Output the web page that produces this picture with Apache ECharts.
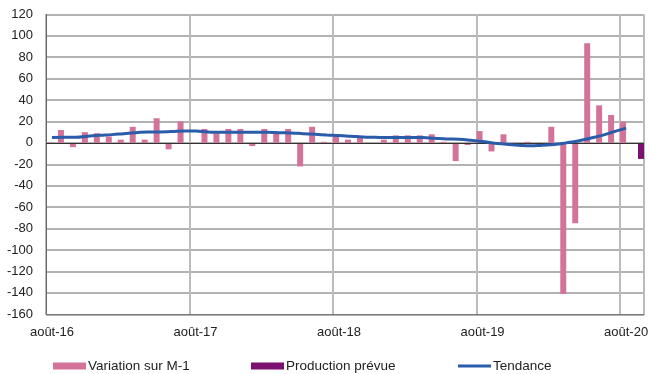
<!DOCTYPE html>
<html><head><meta charset="utf-8">
<script src="https://cdn.jsdelivr.net/npm/echarts@6/dist/echarts.min.js"></script>
<style>html,body{margin:0;padding:0;background:#fff}#c{width:652px;height:374px}</style>
</head><body><div id="c"></div>
<script>
const categories = [
 'août-16','sept-16','oct-16','nov-16','déc-16','janv-17','févr-17','mars-17','avr-17','mai-17','juin-17','juil-17',
 'août-17','sept-17','oct-17','nov-17','déc-17','janv-18','févr-18','mars-18','avr-18','mai-18','juin-18','juil-18',
 'août-18','sept-18','oct-18','nov-18','déc-18','janv-19','févr-19','mars-19','avr-19','mai-19','juin-19','juil-19',
 'août-19','sept-19','oct-19','nov-19','déc-19','janv-20','févr-20','mars-20','avr-20','mai-20','juin-20','juil-20',
 'août-20','sept-20'];
const variation = [
 0.5,12,-4,10,9,6,3,15,3,23,-6,20,
 -0.5,13,9,13,13,-3,13,10,13,-22,15,1,
 8,3,5,-1,3,7,7,7,8,1,-17,-2,
 11,-8,8,-1,1,-1,15,-141,-75,93,35,26,
 20,null];
const production = [
 null,null,null,null,null,null,null,null,null,null,null,null,
 null,null,null,null,null,null,null,null,null,null,null,null,
 null,null,null,null,null,null,null,null,null,null,null,null,
 null,null,null,null,null,null,null,null,null,null,null,null,
 null,-15];
const tendance = [
 4.9,5.2,5.2,6.2,7,7.7,8.6,9.5,10.2,10.2,10.5,11,
 11,10.2,9.8,9.8,9.8,9.8,9.8,9.5,9.2,8.6,8,7.4,
 6.9,6.2,5.5,5.2,4.9,4.9,4.9,4.9,4.3,3.7,3.4,2.5,
 1.2,-0.3,-1.2,-2.2,-2.8,-2.2,-1.5,0,1.8,4.3,7,10.5,
 13.8,null];
const yTicks = {min:-160, max:120, interval:20};

const font = "'Liberation Sans', Arial, sans-serif";
const chart = echarts.init(document.getElementById('c'), null, {renderer:'canvas'});
const legendCommon = {top: 354, itemWidth: 33, itemHeight: 7, itemGap: 0, icon:'rect',
  textStyle:{fontFamily:font, fontSize:13.5, color:'#222', padding:[0,0,0,-3]}};
chart.setOption({
  animation:false,
  textStyle:{fontFamily:font},
  grid:{left:46, right:8, top:14.3, bottom:59.7, containLabel:false},
  legend:[
    Object.assign({data:['Variation sur M-1'], left:48}, legendCommon),
    Object.assign({data:['Production prévue'], left:246}, legendCommon),
    Object.assign({data:[{name:'Tendance', icon:'rect'}], left:453}, legendCommon, {itemHeight:3})
  ],
  xAxis:{type:'category', data:categories, boundaryGap:true,
    axisLine:{onZero:false, lineStyle:{color:'#777', width:1}},
    axisTick:{show:false},
    axisLabel:{interval:11, margin:12, color:'#222', fontSize:13, fontFamily:font},
    splitLine:{show:true, interval:11, lineStyle:{color:'#bbb', width:2}}},
  yAxis:{type:'value', min:yTicks.min, max:yTicks.max, interval:yTicks.interval,
    axisLine:{show:true, lineStyle:{color:'#666', width:1}},
    axisTick:{show:false},
    axisLabel:{margin:13, color:'#222', fontSize:13, fontFamily:font},
    splitLine:{lineStyle:{color:'#999', width:1.5}}},
  series:[
    {name:'Variation sur M-1', type:'bar', data:variation, barGap:'0%', barCategoryGap:'0%',
     itemStyle:{color:'#D4739A'},
     markLine:{silent:true, symbol:'none', label:{show:false},
       lineStyle:{color:'#333', width:1, type:'solid'}, data:[{yAxis:0}]}},
    {name:'Production prévue', type:'bar', data:production, itemStyle:{color:'#7B1070'}},
    {name:'Tendance', type:'line', data:tendance, smooth:true, symbol:'none', showSymbol:false,
     lineStyle:{color:'#2A5CAA', width:3}, itemStyle:{color:'#2A5CAA'}, z:5}
  ]
});
</script></body></html>
